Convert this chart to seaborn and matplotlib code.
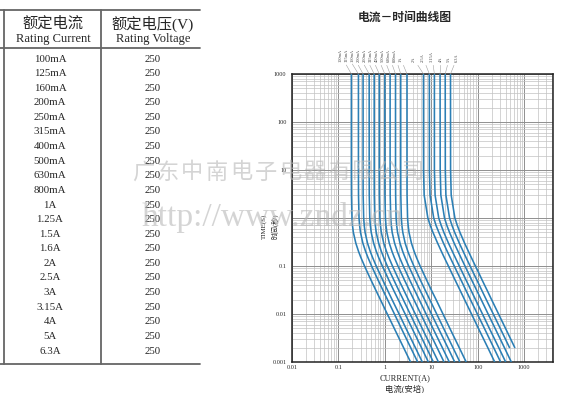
import pandas as pd
import seaborn as sns
import matplotlib.pyplot as plt
from matplotlib.lines import Line2D
from matplotlib.ticker import LogLocator, NullFormatter

W, H = 569, 393

# ---- table data ----
ratings = ['100mA', '125mA', '160mA', '200mA', '250mA', '315mA', '400mA',
           '500mA', '630mA', '800mA', '1A', '1.25A', '1.5A', '1.6A', '2A',
           '2.5A', '3A', '3.15A', '4A', '5A', '6.3A']
voltages = ['250', '250', '250', '250', '250', '250', '250', '250', '250',
            '250', '250', '250', '250', '250', '250', '250', '250', '250',
            '250', '250', '250']

# ---- time-current curves (time in s, current in A) ----
times = [1000, 10, 3, 1, 0.7, 0.5, 0.3, 0.2, 0.15, 0.1, 0.07, 0.05, 0.03, 0.02,
         0.01, 0.005, 0.002, 0.001]
curve_names = ['100mA', '125mA', '160mA', '200mA', '250mA', '315mA', '400mA',
               '500mA', '630mA', '800mA', '1A', '2A', '2.5A', '3.15A', '4A', '5A', '6.3A']
i_100mA = [0.19, 0.19, 0.191, 0.196, 0.201, 0.210, 0.237, 0.272, 0.305, 0.365, 0.432, 0.508, 0.654, 0.801, 1.13, 1.60, 2.53, 3.58]
i_125mA = [0.27, 0.27, 0.271, 0.278, 0.286, 0.299, 0.336, 0.386, 0.433, 0.518, 0.614, 0.722, 0.930, 1.14, 1.61, 2.27, 3.60, 5.09]
i_160mA = [0.34, 0.34, 0.341, 0.350, 0.360, 0.376, 0.423, 0.486, 0.545, 0.652, 0.774, 0.909, 1.17, 1.43, 2.03, 2.86, 4.54, 6.41]
i_200mA = [0.46, 0.46, 0.462, 0.474, 0.487, 0.509, 0.573, 0.657, 0.737, 0.883, 1.05, 1.23, 1.58, 1.94, 2.74, 3.87, 6.14, 8.67]
i_250mA = [0.59, 0.59, 0.592, 0.608, 0.625, 0.653, 0.735, 0.843, 0.946, 1.13, 1.34, 1.58, 2.03, 2.49, 3.51, 4.96, 7.87, 11.1]
i_315mA = [0.76, 0.76, 0.763, 0.783, 0.805, 0.841, 0.946, 1.09, 1.22, 1.46, 1.73, 2.03, 2.62, 3.20, 4.53, 6.39, 10.1, 14.3]
i_400mA = [1.0, 1.0, 1.0035, 1.03, 1.059, 1.107, 1.245, 1.429, 1.603, 1.919, 2.275, 2.673, 3.443, 4.217, 5.957, 8.414, 13.34, 18.84]
i_500mA = [1.3, 1.3, 1.305, 1.34, 1.38, 1.44, 1.62, 1.86, 2.08, 2.49, 2.96, 3.47, 4.48, 5.48, 7.74, 10.9, 17.3, 24.5]
i_630mA = [1.7, 1.7, 1.71, 1.75, 1.80, 1.88, 2.12, 2.43, 2.73, 3.26, 3.87, 4.54, 5.85, 7.17, 10.1, 14.3, 22.7, 32.0]
i_800mA = [2.2, 2.2, 2.21, 2.27, 2.33, 2.44, 2.74, 3.14, 3.53, 4.22, 5.01, 5.88, 7.57, 9.28, 13.1, 18.5, 29.3, 41.4]
i_1A = [3.0, 3.0, 3.01, 3.09, 3.18, 3.32, 3.74, 4.29, 4.81, 5.76, 6.83, 8.02, 10.3, 12.7, 17.9, 25.2, 40.0, 56.5]
i_2A = [6.8, 6.82, 7.04, 8.45, 9.52, 10.9, 13.7, 16.6, 19.1, 23.4, 27.9, 33.0, 42.6, 52.1, 73.7, 104, 165, 233]
i_2_5A = [9.1, 9.13, 9.43, 11.3, 12.7, 14.6, 18.3, 22.2, 25.6, 31.3, 37.3, 44.2, 57.0, 69.7, 98.6, 140, 221, 312]
i_3_15A = [11.7, 11.7, 12.1, 14.5, 16.4, 18.7, 23.5, 28.6, 32.9, 40.2, 48.0, 56.8, 73.3, 89.7, 127, 179, 284, 401]
i_4A = [15.5, 15.6, 16.1, 19.3, 21.7, 24.8, 31.1, 37.9, 43.6, 53.3, 63.6, 75.2, 97.0, 119, 168, 238, 376, 531]
i_5A = [20, 20.1, 20.7, 24.8, 28.0, 32.0, 40.2, 48.9, 56.2, 68.7, 82.0, 97.1, 125, 153, 217, 307, 485, None]
i_6_3A = [26, 26.1, 26.9, 32.3, 36.4, 41.6, 52.2, 63.5, 73.1, 89.3, 107, 126, 163, 199, 282, 399, 630, None]
curve_currents = [i_100mA, i_125mA, i_160mA, i_200mA, i_250mA, i_315mA, i_400mA,
                  i_500mA, i_630mA, i_800mA, i_1A, i_2A, i_2_5A, i_3_15A, i_4A, i_5A, i_6_3A]

rows = []
for name, cur in zip(curve_names, curve_currents):
    for t, i in zip(times, cur):
        if i is not None:
            rows.append((name, i, t))
df = pd.DataFrame(rows, columns=['curve', 'current', 'time'])

sns.set_style('white')
plt.rcParams['font.family'] = ['Liberation Serif', 'Noto Sans CJK SC']

fig = plt.figure(figsize=(W / 100, H / 100), dpi=100)


def px(x, y):
    return x / W, 1 - y / H


def hline(x0, x1, y, **kw):
    fig.add_artist(Line2D([x0 / W, x1 / W], [1 - y / H, 1 - y / H],
                          transform=fig.transFigure, **kw))


def vline(x, y0, y1, **kw):
    fig.add_artist(Line2D([x / W, x / W], [1 - y0 / H, 1 - y1 / H],
                          transform=fig.transFigure, **kw))


# ---- table ----
tbl = dict(color='#666666', lw=1.3)
hline(0, 200, 10, **tbl)
hline(0, 200, 48, **tbl)
hline(0, 200, 364, **tbl)
vline(3.5, 10, 364, **tbl)
vline(101, 10, 364, **tbl)

cjk_serif = ['Liberation Serif', 'Noto Sans CJK SC']
fig.text(*px(53, 24), '额定电流', ha='center', va='center', fontsize=11, family=cjk_serif)
fig.text(*px(53, 39), 'Rating Current', ha='center', va='center', fontsize=9, family=cjk_serif)
fig.text(*px(153, 24), '额定电压(V)', ha='center', va='center', fontsize=11, family=cjk_serif)
fig.text(*px(153, 39), 'Rating Voltage', ha='center', va='center', fontsize=9, family=cjk_serif)
for k, (r, v) in enumerate(zip(ratings, voltages)):
    y = 59 + k * 14.6
    fig.text(*px(50, y), r, ha='center', va='center', fontsize=7.8, family=cjk_serif)
    fig.text(*px(153, y), v, ha='center', va='center', fontsize=7.8, family=cjk_serif)

# ---- chart ----
ax = fig.add_axes([292 / W, 1 - 362 / H, (553 - 292) / W, (362 - 74) / H])
sns.lineplot(data=df, x='current', y='time', units='curve', estimator=None,
             sort=False, color='#2b7fb5', lw=1.15, ax=ax, zorder=3)
ax.set_xscale('log')
ax.set_yscale('log')
ax.set_xlim(0.01, 4200)
ax.set_ylim(0.001, 1000)
ax.set_xticks([0.01, 0.1, 1, 10, 100, 1000])
ax.set_xticklabels(['0.01', '0.1', '1', '10', '100', '1000'])
ax.set_yticks([0.001, 0.01, 0.1, 1, 10, 100, 1000])
ax.set_yticklabels(['0.001', '0.01', '0.1', '', '10', '100', '1000'])
for axis in (ax.xaxis, ax.yaxis):
    axis.set_minor_locator(LogLocator(base=10, subs=[2, 3, 4, 5, 6, 7, 8, 9], numticks=20))
    axis.set_minor_formatter(NullFormatter())
ax.grid(which='major', color='#8f8f8f', lw=0.7)
ax.grid(which='minor', color='#c2c2c2', lw=0.5)
ax.tick_params(which='both', length=0, labelsize=4.5)
ax.tick_params(axis='x', pad=2.5)
ax.tick_params(axis='y', pad=4)
ax.set_xlabel('')
ax.set_ylabel('')
for s in ax.spines.values():
    s.set_color('#222222')
    s.set_linewidth(1.1)

# curve labels with leader lines
label_x = [341, 347, 353, 359, 365, 371, 377, 383, 389, 395, 401,
           414, 423, 432, 441, 449, 457]
for name, cur, lx in zip(curve_names, curve_currents, label_x):
    ax.annotate(name, xy=(cur[0], 1000), xycoords='data',
                xytext=(lx, H - 62), textcoords='figure pixels',
                rotation=90, ha='center', va='bottom', fontsize=3.2,
                color='#444444', annotation_clip=False,
                arrowprops=dict(arrowstyle='-', color='#a0a0a0', lw=0.4,
                                shrinkA=0, shrinkB=0))

fig.text(*px(405, 17), '电流－时间曲线图', ha='center', va='center', fontsize=8.5,
         fontweight='bold', family=['Noto Sans CJK SC', 'DejaVu Sans'])
fig.text(*px(264, 226), 'TIME(S)', ha='center', va='center', rotation=90,
         fontsize=5, family=cjk_serif)
fig.text(*px(275, 226), '时间(秒)', ha='center', va='center', rotation=90,
         fontsize=5, family=cjk_serif)
fig.text(*px(405, 378), 'CURRENT(A)', ha='center', va='center', fontsize=6, family=cjk_serif)
fig.text(*px(405, 389), '电流(安培)', ha='center', va='center', fontsize=6, family=cjk_serif)

# ---- watermark ----
wm = '广东中南电子电器有限公司'
for k, ch in enumerate(wm):
    fig.text(*px(143 + k * 24.5, 172), ch, ha='center', va='center', fontsize=16,
             color='#b8b8b8', alpha=0.6, style='italic', zorder=10,
             family=['Noto Sans CJK SC'])
fig.text(*px(272, 218), 'http://www.zndz.cn', ha='center', va='center', fontsize=24,
         color='#b8b8b8', alpha=0.6, zorder=10, family=['Liberation Serif'])

fig.savefig('out.png', dpi=100)
